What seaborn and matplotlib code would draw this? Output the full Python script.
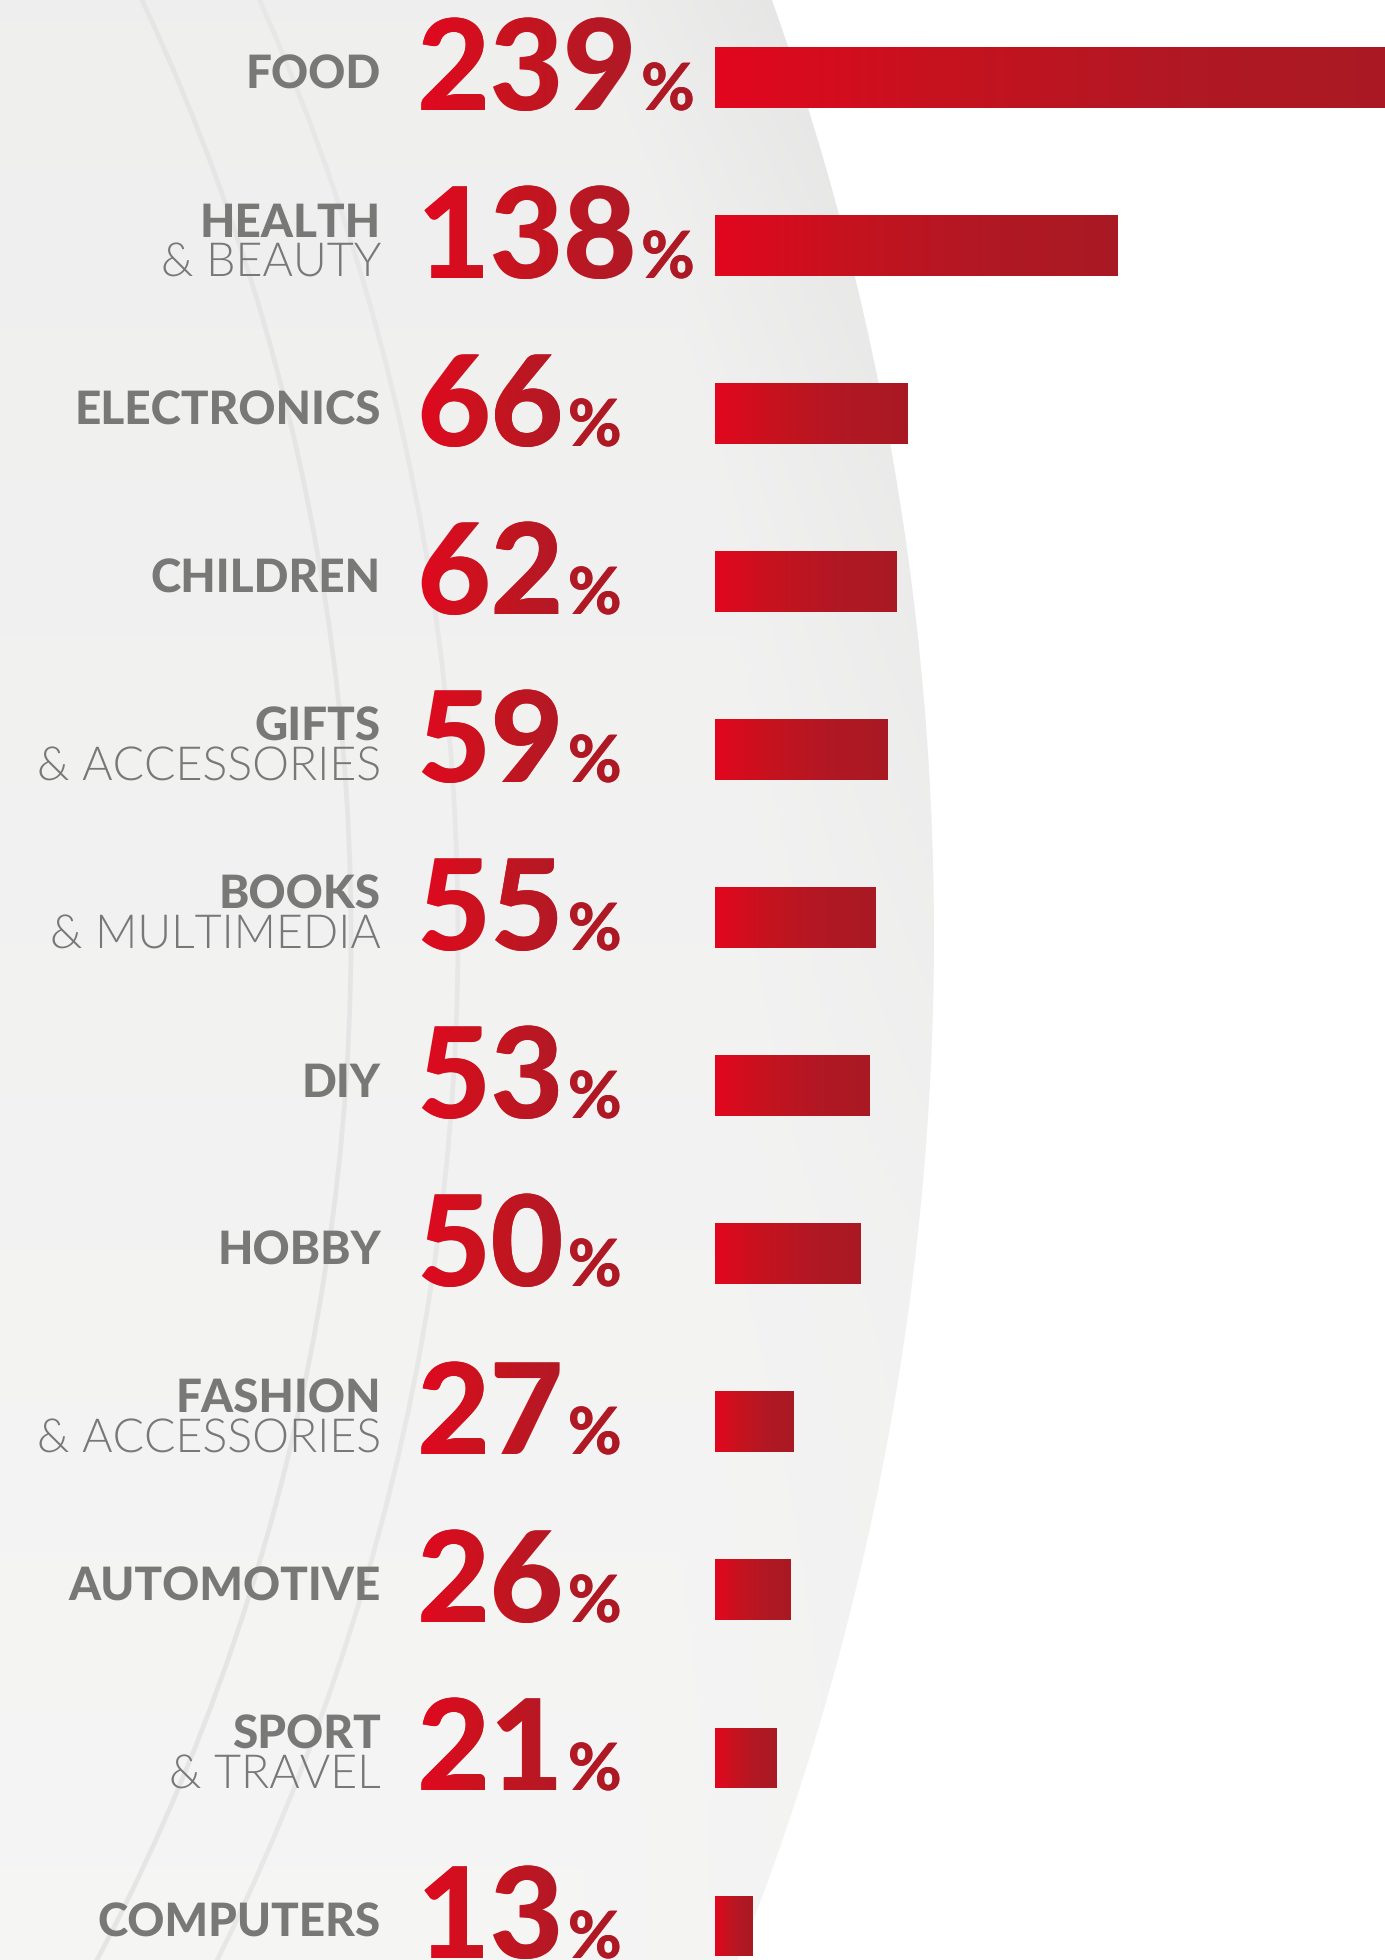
import matplotlib
matplotlib.use("Agg")
import numpy as np
import pandas as pd
import seaborn as sns
import matplotlib.pyplot as plt
from matplotlib import font_manager as fm
from matplotlib.font_manager import FontProperties
from matplotlib.patches import Circle, Arc, PathPatch
from matplotlib.colors import LinearSegmentedColormap
from matplotlib.textpath import TextPath
from matplotlib.transforms import Affine2D, IdentityTransform
from matplotlib.path import Path

plt.rcParams["text.hinting"] = "no_hinting"

# ---------------- data ----------------
labels_bold = ["FOOD", "HEALTH", "ELECTRONICS", "CHILDREN", "GIFTS", "BOOKS",
               "DIY", "HOBBY", "FASHION", "AUTOMOTIVE", "SPORT", "COMPUTERS"]
labels_light = ["", "& BEAUTY", "", "", "& ACCESSORIES", "& MULTIMEDIA",
                "", "", "& ACCESSORIES", "", "& TRAVEL", ""]
values = [239, 138, 66, 62, 59, 55, 53, 50, 27, 26, 21, 13]
value_labels = [str(v) for v in values]
pct_sign = "%"

categories = [(b + " " + l).strip() for b, l in zip(labels_bold, labels_light)]
df = pd.DataFrame({"category": categories, "value": values})

# ---------------- fonts ----------------
def wint(f):
    try:
        return int(f.weight)
    except Exception:
        return 400

def find_font(family, weight):
    cands = [f for f in fm.fontManager.ttflist
             if (f.name == family or f.name.startswith(family + " ")) and f.style == "normal"]
    if not cands:
        return None
    cands.sort(key=lambda f: (abs(wint(f) - weight), len(f.name)))
    return cands[0]

def fprops(family, weight, size):
    f = find_font(family, weight)
    if f is None:
        return FontProperties(family="DejaVu Sans", weight="bold" if weight >= 600 else "light", size=size)
    return FontProperties(fname=f.fname, size=size)

fp_num = fprops("Lato", 900, 91)
fp_pct = fprops("Lato", 900, 47)
fp_bold = fprops("Lato", 900, 33)
fp_light = fprops("Lato", 300, 33.5)

# ---------------- figure ----------------
W, H = 1385, 1960
DPI = 100
fig = plt.figure(figsize=(W / DPI, H / DPI), dpi=DPI)
fig.patch.set_facecolor("white")

# background layer in pixel coordinates
bg = fig.add_axes([0, 0, 1, 1], zorder=0)
bg.set_xlim(0, W)
bg.set_ylim(H, 0)
bg.axis("off")

cx, cy, R = -1845, 935, 2779
yy, xx = np.mgrid[0:H:4, 0:W:4]
rr = np.hypot(xx - cx, yy - cy)
base = 0.937 + 0.025 * (yy / H)
band = np.clip((rr - 2600) / 180, 0, 1)
fade = np.clip(1 - yy / 1300, 0, 1)
img = base - 0.028 * band * fade - 0.006 * band
rgb = np.dstack([img, img, img * 0.998])
circ = Circle((cx, cy), R, facecolor="none", edgecolor="none")
bg.add_patch(circ)
im = bg.imshow(rgb, extent=(0, W, H, 0), interpolation="bilinear", aspect="auto")
im.set_clip_path(circ)
for rad, col in [(2196, "#e5e5e5"), (2303, "#e7e7e7")]:
    bg.add_patch(Arc((cx, cy), 2 * rad, 2 * rad, theta1=-40, theta2=40,
                     edgecolor=col, lw=3.4, zorder=2))

# ---------------- bars ----------------
ax = fig.add_axes([0, 0, 1, 1], zorder=1)
ax.patch.set_alpha(0)
sns.barplot(data=df, x="value", y="category", orient="h", order=categories,
            width=61 / 168, color="#c8121f", saturation=1, ax=ax)

px_per_unit = 2.92
bar_left_px = 715
row0_px, row_px = 78, 168

def set_lims():
    ax.set_xlim(-bar_left_px / px_per_unit, (W - bar_left_px) / px_per_unit)
    ax.set_ylim((H - row0_px) / row_px, -row0_px / row_px)
    ax.set_autoscale_on(False)

set_lims()
ax.axis("off")

def dx(px):
    return px / px_per_unit

def dy(px):
    return px / row_px

bar_cmap = LinearSegmentedColormap.from_list("bargrad", ["#e2061e", "#c5131f", "#b11824", "#a91a23"])
grad = np.linspace(0, 1, 256).reshape(1, -1)
for p in list(ax.patches):
    x0, y0 = p.get_x(), p.get_y()
    w, h = p.get_width(), p.get_height()
    gi = ax.imshow(grad, cmap=bar_cmap, extent=(x0, x0 + w, y0 + h, y0),
                   aspect="auto", interpolation="bilinear", zorder=3)
    gi.set_clip_path(p)
set_lims()

# ---------------- texts ----------------
grey = "#787877"
red = "#c8121f"
label_x = dx(381 - bar_left_px)
num_x = dx(417 - bar_left_px)

num_texts = []
for i, (b, l, vl) in enumerate(zip(labels_bold, labels_light, value_labels)):
    if l:
        ax.text(label_x, i + dy(-9), b, ha="right", va="baseline", color=grey, fontproperties=fp_bold)
        ax.text(label_x, i + dy(31), l, ha="right", va="baseline", color=grey, fontproperties=fp_light)
    else:
        ax.text(label_x, i + dy(11), b, ha="right", va="baseline", color=grey, fontproperties=fp_bold)
    t = ax.text(num_x, i + dy(32), vl, ha="left", va="baseline", color=red, fontproperties=fp_num)
    num_texts.append(t)

fig.canvas.draw()
renderer = fig.canvas.get_renderer()
inv = ax.transData.inverted()
pct_texts = []
for i, t in enumerate(num_texts):
    bb = t.get_window_extent(renderer)
    xe = inv.transform((bb.x1, bb.y0))[0]
    pt = ax.text(xe + dx(4), i + dy(32), pct_sign, ha="left", va="baseline",
                 color="#bf1420", fontproperties=fp_pct)
    pct_texts.append(pt)

fig.canvas.draw()
# red gradient laid over the big numbers (the text objects stay underneath)
txt_cmap = LinearSegmentedColormap.from_list("txtgrad", ["#e3081f", "#c8141f", "#b41925", "#ab1a24"])
scale = DPI / 72.0
for t, pt in zip(num_texts, pct_texts):
    paths = []
    for tx in (t, pt):
        ox, oy = ax.transData.transform(tx.get_position())
        tp = TextPath((0, 0), tx.get_text(), prop=tx.get_fontproperties())
        paths.append(Affine2D().scale(scale).translate(ox, oy).transform_path(tp))
    comp = Path.make_compound_path(*paths)
    clip = PathPatch(comp, transform=IdentityTransform(), facecolor="none", edgecolor="none")
    ax.add_artist(clip)
    b1 = t.get_window_extent(renderer)
    b2 = pt.get_window_extent(renderer)
    (x0d, y0d) = inv.transform((min(b1.x0, b2.x0) - 2, min(b1.y0, b2.y0) - 4))
    (x1d, y1d) = inv.transform((max(b1.x1, b2.x1) + 2, max(b1.y1, b2.y1) + 4))
    gim = ax.imshow(grad, cmap=txt_cmap, extent=(x0d, x1d, y0d, y1d),
                    aspect="auto", interpolation="bilinear", zorder=4)
    gim.set_clip_path(clip)
set_lims()

fig.savefig("out.png", dpi=DPI, facecolor="white")
